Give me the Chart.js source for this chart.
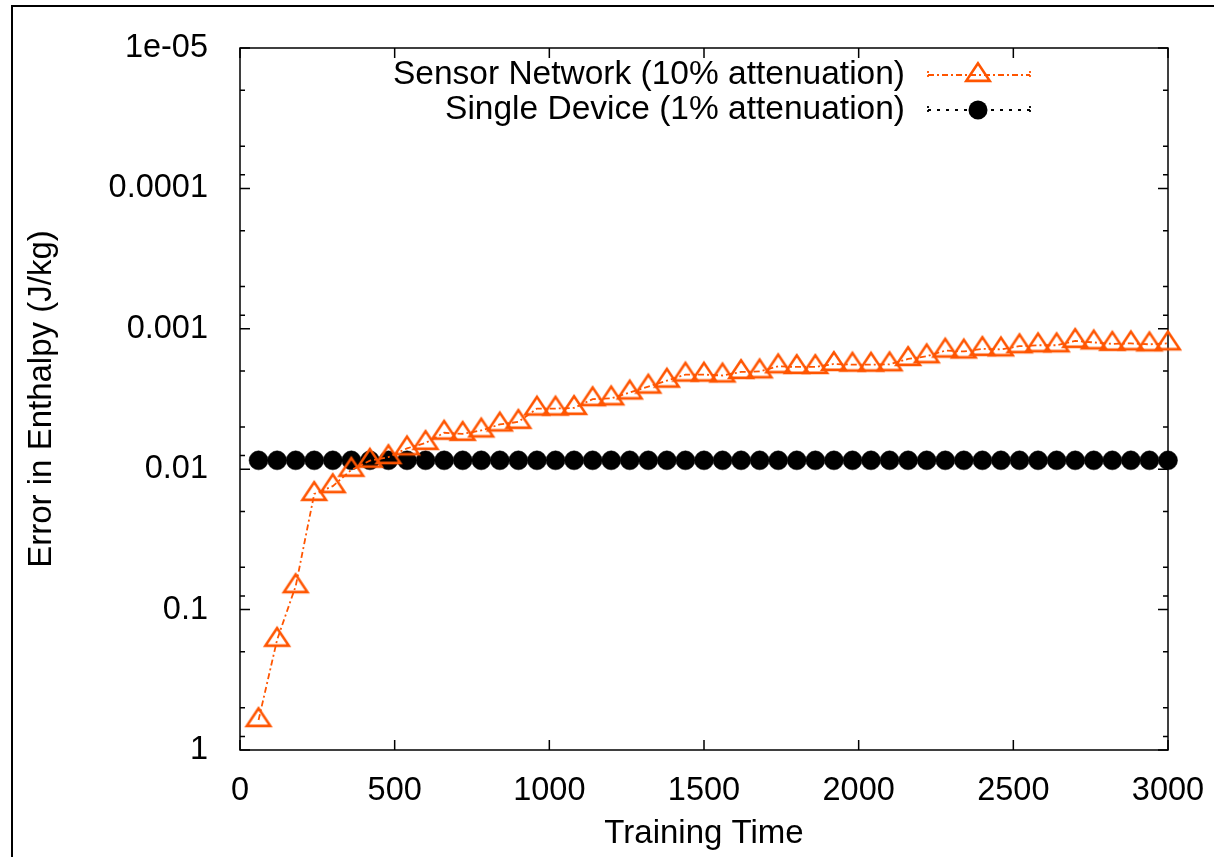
<!DOCTYPE html>
<html lang="en">
<head>
<meta charset="UTF-8" />
<script src="https://cdn.jsdelivr.net/npm/chart.js"></script>
<title>Error in Enthalpy</title>
<style>
  html, body { margin: 0; padding: 0; background: #fff; }
</style>
</head>
<body>
<canvas id="chart" width="1214" height="857"></canvas>
<script>
  // training time (x) for both series
  const trainingTime = [
    60, 120, 180, 240, 300, 360, 420, 480, 540, 600,
    660, 720, 780, 840, 900, 960, 1020, 1080, 1140, 1200,
    1260, 1320, 1380, 1440, 1500, 1560, 1620, 1680, 1740, 1800,
    1860, 1920, 1980, 2040, 2100, 2160, 2220, 2280, 2340, 2400,
    2460, 2520, 2580, 2640, 2700, 2760, 2820, 2880, 2940, 3000,
  ];
  const sensorNetwork = [
    0.612, 0.164, 0.0681, 0.0150, 0.0132, 0.0101, 0.0087, 0.0082, 0.0071, 0.0065,
    0.0055, 0.0056, 0.0053, 0.0048, 0.0046, 0.0037, 0.0037, 0.00366, 0.00317, 0.00313,
    0.00284, 0.00258, 0.00234, 0.00212, 0.00212, 0.00215, 0.00203, 0.00201, 0.00185, 0.00187,
    0.00187, 0.00178, 0.0018, 0.0018, 0.00179, 0.00164, 0.00157, 0.00143, 0.00145, 0.00139,
    0.0014, 0.00133, 0.00131, 0.00131, 0.00122, 0.00125, 0.00128, 0.00127, 0.00129, 0.00127,
  ];
  const singleDevice = [
    0.00865, 0.00865, 0.00865, 0.00865, 0.00865, 0.00865, 0.00865, 0.00865, 0.00865, 0.00865,
    0.00865, 0.00865, 0.00865, 0.00865, 0.00865, 0.00865, 0.00865, 0.00865, 0.00865, 0.00865,
    0.00865, 0.00865, 0.00865, 0.00865, 0.00865, 0.00865, 0.00865, 0.00865, 0.00865, 0.00865,
    0.00865, 0.00865, 0.00865, 0.00865, 0.00865, 0.00865, 0.00865, 0.00865, 0.00865, 0.00865,
    0.00865, 0.00865, 0.00865, 0.00865, 0.00865, 0.00865, 0.00865, 0.00865, 0.00865, 0.00865,
  ];
  const seriesNames = ["Sensor Network (10% attenuation)", "Single Device (1% attenuation)"];
  const xTickValues = [0, 500, 1000, 1500, 2000, 2500, 3000];
  const xTickLabels = ["0", "500", "1000", "1500", "2000", "2500", "3000"];
  const yTickValues = [1e-5, 1e-4, 1e-3, 1e-2, 1e-1, 1];
  const yTickLabels = ["1e-05", "0.0001", "0.001", "0.01", "0.1", "1"];
  const yMinorSteps = [2, 5, 8];

  const ORANGE = "#ff5500";
  const FONT = "'Liberation Sans', Arial, sans-serif";
  Chart.defaults.font.family = FONT;
  Chart.defaults.color = "#000";

  // gnuplot style open triangle, centroid at the canvas centre
  function makeTriangle(h, color, lw) {
    const c = document.createElement("canvas");
    c.width = 32;
    c.height = 32;
    const g = c.getContext("2d");
    g.strokeStyle = color;
    g.lineWidth = lw;
    g.lineJoin = "miter";
    g.beginPath();
    g.moveTo(16, 16 - (4 * h) / 3);
    g.lineTo(16 - (4 * h) / 3, 16 + (2 * h) / 3);
    g.lineTo(16 + (4 * h) / 3, 16 + (2 * h) / 3);
    g.closePath();
    g.stroke();
    return c;
  }
  const triangle = makeTriangle(8.8, ORANGE, 2.6);

  const gnuplotFrame = {
    id: "gnuplotFrame",
    beforeDatasetsDraw(chart) {
      const { ctx, chartArea: a, scales } = chart;
      const x = scales.x, y = scales.y;
      ctx.save();
      ctx.strokeStyle = "#000";
      ctx.lineWidth = 1.5;
      ctx.strokeRect(a.left, a.top, a.right - a.left, a.bottom - a.top);
      ctx.beginPath();
      xTickValues.forEach((v) => {
        const px = x.getPixelForValue(v);
        ctx.moveTo(px, a.bottom);
        ctx.lineTo(px, a.bottom - 10);
        ctx.moveTo(px, a.top);
        ctx.lineTo(px, a.top + 10);
      });
      yTickValues.forEach((v, i) => {
        const py = y.getPixelForValue(v);
        ctx.moveTo(a.left, py);
        ctx.lineTo(a.left + 10, py);
        ctx.moveTo(a.right, py);
        ctx.lineTo(a.right - 10, py);
        if (i < yTickValues.length - 1) {
          yMinorSteps.forEach((m) => {
            const pm = y.getPixelForValue(v * m);
            ctx.moveTo(a.left, pm);
            ctx.lineTo(a.left + 5, pm);
            ctx.moveTo(a.right, pm);
            ctx.lineTo(a.right - 5, pm);
          });
        }
      });
      ctx.stroke();
      // outer frame of the figure
      ctx.lineWidth = 2;
      ctx.beginPath();
      ctx.moveTo(12, chart.height);
      ctx.lineTo(12, 6);
      ctx.lineTo(chart.width, 6);
      ctx.stroke();
      ctx.restore();
    },
    afterDraw(chart) {
      const ctx = chart.ctx;
      const rows = [75, 110];
      ctx.save();
      ctx.font = "33.5px " + FONT;
      ctx.fillStyle = "#000";
      ctx.textAlign = "right";
      ctx.textBaseline = "middle";
      rows.forEach((ry, i) => {
        ctx.fillText(seriesNames[i], 905, ry);
        ctx.lineWidth = 1.8;
        ctx.strokeStyle = i === 0 ? ORANGE : "#000";
        ctx.setLineDash(i === 0 ? [6, 3, 2, 3] : [3, 6]);
        ctx.beginPath();
        ctx.moveTo(928, ry);
        ctx.lineTo(1030, ry);
        ctx.stroke();
        ctx.setLineDash([2, 2]);
        ctx.beginPath();
        ctx.moveTo(928, ry - 4);
        ctx.lineTo(928, ry + 4);
        ctx.moveTo(1030, ry - 4);
        ctx.lineTo(1030, ry + 4);
        ctx.stroke();
        ctx.setLineDash([]);
      });
      ctx.drawImage(triangle, 978 - 16, rows[0] - 16);
      ctx.fillStyle = "#000";
      ctx.beginPath();
      ctx.arc(978, rows[1], 9.5, 0, Math.PI * 2);
      ctx.fill();
      ctx.restore();
    },
  };

  const ctx = document.getElementById("chart").getContext("2d");
  new Chart(ctx, {
    type: "line",
    data: {
      datasets: [
        {
          label: seriesNames[1],
          data: trainingTime.map((t, i) => ({ x: t, y: singleDevice[i] })),
          borderColor: "#000",
          borderWidth: 1.5,
          borderDash: [2, 5],
          pointStyle: "circle",
          pointRadius: 9.5,
          pointBackgroundColor: "#000",
          pointBorderColor: "#000",
          pointBorderWidth: 0.5,
          clip: false,
          order: 2,
        },
        {
          label: seriesNames[0],
          data: trainingTime.map((t, i) => ({ x: t, y: sensorNetwork[i] })),
          borderColor: ORANGE,
          borderWidth: 1.8,
          borderDash: [6, 3, 2, 3],
          pointStyle: triangle,
          clip: false,
          order: 1,
        },
      ],
    },
    options: {
      responsive: false,
      animation: false,
      devicePixelRatio: 1,
      layout: { padding: { top: 48, right: 46, left: 0, bottom: 0 } },
      plugins: { legend: { display: false }, tooltip: { enabled: false } },
      scales: {
        x: {
          type: "linear",
          min: 0,
          max: 3000,
          grid: { display: false },
          border: { display: false },
          afterBuildTicks: (s) => { s.ticks = xTickValues.map((v) => ({ value: v })); },
          afterFit: (s) => {
            s.height = 107;
            s.paddingLeft = 0;
            s.paddingRight = 0;
          },
          ticks: {
            font: { size: 32.5 },
            padding: 14,
            maxRotation: 0,
            autoSkip: false,
            callback: (v, i) => xTickLabels[i],
          },
          title: {
            display: true,
            text: "Training Time",
            font: { size: 33 },
            padding: { top: 0, bottom: 3 },
          },
        },
        y: {
          type: "logarithmic",
          reverse: true,
          min: 1e-5,
          max: 1,
          grid: { display: false },
          border: { display: false },
          afterBuildTicks: (s) => { s.ticks = yTickValues.map((v) => ({ value: v })); },
          afterFit: (s) => {
            s.width = 240;
            s.paddingTop = 0;
            s.paddingBottom = 0;
          },
          ticks: {
            font: { size: 32.5 },
            padding: 24,
            autoSkip: false,
            callback: (v, i) => yTickLabels[i],
          },
          title: {
            display: true,
            text: "Error in Enthalpy (J/kg)",
            font: { size: 33 },
            padding: { top: 22, bottom: 0 },
          },
        },
      },
    },
    plugins: [gnuplotFrame],
  });
</script>
</body>
</html>
